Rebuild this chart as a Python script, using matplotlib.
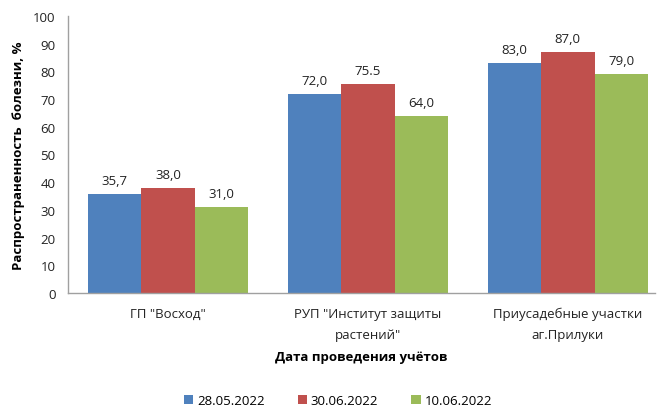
import matplotlib
matplotlib.use("Agg")
import matplotlib.pyplot as plt
import numpy as np

plt.rcParams['font.family'] = ['Open Sans', 'DejaVu Sans']

categories = ['ГП "Восход"', 'РУП "Институт защиты\nрастений"', 'Приусадебные участки\nаг.Прилуки']
series_names = ['28.05.2022', '30.06.2022', '10.06.2022']
s1 = [35.7, 72.0, 83.0]
s2 = [38.0, 75.5, 87.0]
s3 = [31.0, 64.0, 79.0]
labels1 = ['35,7', '72,0', '83,0']
labels2 = ['38,0', '75.5', '87,0']
labels3 = ['31,0', '64,0', '79,0']
colors = ['#4F81BD', '#C0504D', '#9BBB59']

fig = plt.figure(figsize=(6.63, 4.10), dpi=100)
ax = fig.add_axes([0.1026, 0.283, 0.885, 0.6755])

x = np.arange(len(categories))
w = 0.267
for i, (vals, labs) in enumerate(zip([s1, s2, s3], [labels1, labels2, labels3])):
    bars = ax.bar(x + (i - 1) * w, vals, w, color=colors[i], label=series_names[i], zorder=2)
    ax.bar_label(bars, labels=labs, padding=5, fontsize=9.5, color='#222222')

ax.set_xlim(-0.5, 2.435)
ax.set_ylim(0, 100)
ax.set_yticks(range(0, 101, 10))
ax.set_xticks(x)
ax.set_xticklabels(categories, fontsize=9.5, color='#222222', linespacing=1.8)
ax.tick_params(axis='both', length=0, labelsize=9.5, colors='#222222')
ax.tick_params(axis='x', pad=10)
ax.tick_params(axis='y', pad=9)
for s in ['top', 'right']:
    ax.spines[s].set_visible(False)
for s in ['left', 'bottom']:
    ax.spines[s].set_color('#A0A0A0')
    ax.spines[s].set_linewidth(1)

ax.set_ylabel('Распространенность  болезни, %', fontsize=9.5, fontweight='bold', labelpad=6)
ax.set_xlabel('Дата проведения учётов', fontsize=9.5, fontweight='bold', labelpad=6)

ax.legend(loc='lower center', bbox_to_anchor=(0.46, -0.445), ncol=3, frameon=False,
          fontsize=9.5, handlelength=0.7, handleheight=0.7, handletextpad=0.3, columnspacing=2.5,
          borderpad=0.2)

fig.savefig('out.png', dpi=100)
